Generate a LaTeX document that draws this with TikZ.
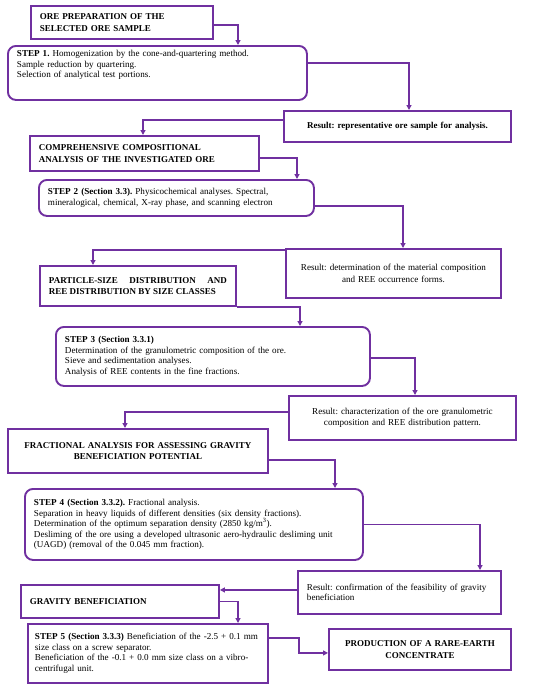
\documentclass[tikz,border=0pt]{standalone}
\usepackage{fontspec}
\setmainfont{Liberation Serif}
\usepackage{tikz}
\usetikzlibrary{arrows.meta,positioning}
\definecolor{flowpurple}{HTML}{7030A0}
\frenchspacing

\begin{document}
\begin{tikzpicture}[x=1pt, y=-1pt,
  box/.style={draw=flowpurple, line width=1.9pt, anchor=north west, inner xsep=9pt, inner ysep=2pt, align=left, font=\fontsize{9.1}{10.5}\selectfont},
  headbox/.style={box, font=\bfseries\fontsize{9}{11.5}\selectfont},
  stepbox/.style={box, rounded corners=8pt},
  resbox/.style={box, align=center, font=\fontsize{9.1}{11.5}\selectfont},
  flow/.style={draw=flowpurple, line width=1.5pt, -{Triangle[length=5pt,width=5pt]}}]
  \useasboundingbox (0,0) rectangle (550,689);
  % Stage 1: preparation
  \node[headbox, minimum width=182pt, minimum height=33pt, text width=164pt] (prep) at (30,5) {ORE PREPARATION OF THE\\SELECTED ORE SAMPLE};
  \node[stepbox, minimum width=299pt, minimum height=54pt, text width=281pt] (s1) at (7,45) {\textbf{STEP 1.} Homogenization by the cone-and-quartering method.\\Sample reduction by quartering.\\Selection of analytical test portions.\\[7pt]\mbox{}};
  \node[resbox, minimum width=227pt, minimum height=31pt, text width=209pt, font=\bfseries\fontsize{9}{11.5}\selectfont] (res1) at (283,110) {Result: representative ore sample for analysis.};
  % Stage 2: composition
  \node[headbox, minimum width=229pt, minimum height=35pt, text width=211pt] (comp) at (29,135) {COMPREHENSIVE COMPOSITIONAL\\ANALYSIS OF THE INVESTIGATED ORE};
  \node[stepbox, minimum width=275pt, minimum height=36pt, text width=257pt] (s2) at (38,179) {\textbf{STEP 2 (Section 3.3).} Physicochemical analyses. Spectral,\\mineralogical, chemical, X-ray phase, and scanning electron};
  \node[resbox, minimum width=215pt, minimum height=49pt, text width=197pt] (res2) at (285,248) {Result: determination of the material composition\\and REE occurrence forms.};
  % Stage 3: size classes
  \node[headbox, minimum width=196pt, minimum height=40pt, text width=178pt, align=justify] (psd) at (39,265) {PARTICLE-SIZE DISTRIBUTION AND\linebreak REE DISTRIBUTION BY SIZE CLASSES};
  \node[stepbox, minimum width=314pt, minimum height=59pt, text width=296pt] (s3) at (55,326) {\textbf{STEP 3 (Section 3.3.1)}\\Determination of the granulometric composition of the ore.\\Sieve and sedimentation analyses.\\Analysis of REE contents in the fine fractions.};
  \node[resbox, minimum width=227pt, minimum height=44pt, text width=209pt] (res3) at (288,395) {Result: characterization of the ore granulometric\\composition and REE distribution pattern.};
  % Stage 4: fractional analysis
  \node[headbox, align=center, minimum width=260pt, minimum height=44pt, text width=242pt] (frac) at (7,428) {FRACTIONAL ANALYSIS FOR ASSESSING GRAVITY\\BENEFICIATION POTENTIAL};
  \node[stepbox, minimum width=338pt, minimum height=71pt, text width=320pt] (s4) at (24,488) {\textbf{STEP 4 (Section 3.3.2).} Fractional analysis.\\Separation in heavy liquids of different densities (six density fractions).\\Determination of the optimum separation density (2850 kg/m\textsuperscript{3}).\\Desliming of the ore using a developed ultrasonic aero-hydraulic desliming unit\\(UAGD) (removal of the 0.045 mm fraction).};
  \node[box, minimum width=203pt, minimum height=43pt, text width=185pt] (res4) at (297,570) {Result: confirmation of the feasibility of gravity\\beneficiation};
  % Stage 5: gravity beneficiation
  \node[headbox, minimum width=198pt, minimum height=33pt, text width=180pt] (grav) at (20,584) {GRAVITY BENEFICIATION};
  \node[box, minimum width=240pt, minimum height=59pt, text width=226pt, inner xsep=7pt] (s5) at (27,623) {\textbf{STEP 5 (Section 3.3.3)} Beneficiation of the -2.5 + 0.1 mm\\size class on a screw separator.\\Beneficiation of the -0.1 + 0.0 mm size class on a vibro-\\centrifugal unit.};
  \node[headbox, align=center, minimum width=182pt, minimum height=41pt, text width=164pt] (prod) at (328,628) {PRODUCTION OF A RARE-EARTH\\CONCENTRATE};
  % Connectors
  \draw[flow] ([yshift=-2.5pt]prep.east) -| ([xshift=231pt]s1.north west);
  \draw[flow] ([yshift=10pt]s1.east) -| ([xshift=126pt]res1.north west);
  \draw[flow] ([yshift=6.5pt]res1.west) -| ([xshift=114pt]comp.north west);
  \draw[flow] ([yshift=-4.5pt]comp.east) -| ([xshift=259pt]s2.north west);
  \draw[flow] ([yshift=-8pt]s2.east) -| ([xshift=118pt]res2.north west);
  \draw[flow] ([yshift=-2pt]res2.north west) -| ([xshift=54pt]psd.north west);
  \draw[flow] (psd.south east) -| ([xshift=245pt]s3.north west);
  \draw[flow] ([yshift=-1.5pt]s3.east) -| ([xshift=127pt]res3.north west);
  \draw[flow] ([yshift=6pt]res3.west) -| ([xshift=118pt]frac.north west);
  \draw[flow] ([yshift=-9pt]frac.east) -| ([xshift=311pt]s4.north west);
  \draw[flow] (s4.east) -| ([xshift=183pt]res4.north west);
  \coordinate (r4out) at ([yshift=2.5pt]res4.west);
  \draw[flow] (r4out) -- (r4out -| grav.east);
  \draw[flow] (grav.east) -| ([xshift=211pt]s5.north west);
  \coordinate (p5in) at ([yshift=-3.5pt]prod.west);
  \draw[flow] ([yshift=15.5pt]s5.east) -- ++(30,0) |- (p5in);
\end{tikzpicture}
\end{document}
